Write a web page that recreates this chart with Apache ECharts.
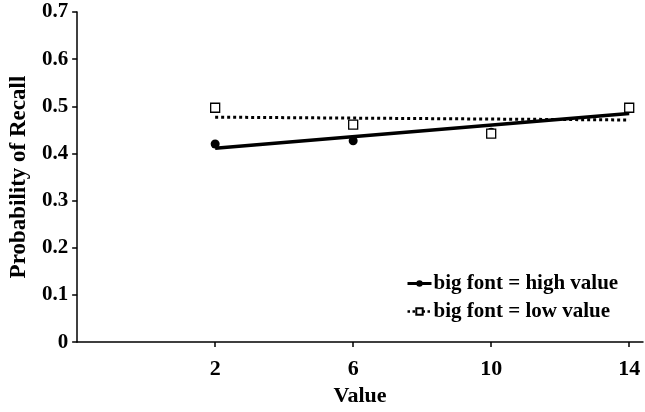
<!DOCTYPE html>
<html>
<head>
<meta charset="utf-8">
<script src="https://cdn.jsdelivr.net/npm/echarts@6/dist/echarts.min.js"></script>
<style>
  html, body { margin: 0; padding: 0; background: #fff; }
  #chart { width: 645px; height: 412px; }
</style>
</head>
<body>
<div id="chart"></div>
<script>
// x positions of the four conditions
const xValues = [2, 6, 10, 14];

// probability of recall
const highValue = [0.420, 0.427, 0.445, 0.495];
const lowValue = [0.497, 0.461, 0.442, 0.497];

// linear trend lines, end points at x = 2 and x = 14
const trendX = [2, 14];
const highTrend = [0.411, 0.485];
const lowTrend = [0.477, 0.471];

const seriesNames = ['big font = high value', 'big font = low value'];

const fontFamily = '"Liberation Serif", "DejaVu Serif", serif';

const pairs = (xs, ys) => xs.map((x, i) => [x, ys[i]]);

const chart = echarts.init(document.getElementById('chart'));

chart.setOption({
    animation: false,
    backgroundColor: '#fff',
    textStyle: { fontFamily: fontFamily, color: '#000' },
    grid: {
        left: 57,
        right: 2,
        top: 12,
        bottom: 57
    },
    legend: {
        orient: 'vertical',
        left: 401,
        top: 268,
        itemWidth: 24,
        itemHeight: 8,
        itemGap: 7,
        textStyle: {
            fontFamily: fontFamily,
            fontSize: 21,
            fontWeight: 'bold',
            color: '#000',
            padding: [0, 0, 0, -3]
        },
        data: [
            {
                name: seriesNames[0],
                lineStyle: { opacity: 1, width: 3, color: '#000', type: 'solid' }
            },
            {
                name: seriesNames[1],
                lineStyle: { opacity: 1, width: 2.5, color: '#000', type: [2.5, 2.5] }
            }
        ]
    },
    xAxis: {
        type: 'value',
        min: -2,
        max: 14.4,
        name: 'Value',
        nameLocation: 'middle',
        nameGap: 38,
        nameTextStyle: { fontSize: 22, fontWeight: 'bold', color: '#000' },
        splitLine: { show: false },
        axisLine: { lineStyle: { color: '#000', width: 1.5 } },
        axisTick: {
            length: 5,
            lineStyle: { color: '#000', width: 1.5 },
            customValues: xValues
        },
        axisLabel: {
            margin: 16,
            fontSize: 22,
            fontWeight: 'bold',
            color: '#000',
            customValues: xValues
        }
    },
    yAxis: {
        type: 'value',
        min: 0,
        max: 0.7,
        interval: 0.1,
        name: 'Probability of Recall',
        nameLocation: 'middle',
        nameGap: 35,
        nameTextStyle: { fontSize: 23, fontWeight: 'bold', color: '#000' },
        splitLine: { show: false },
        axisLine: { show: true, onZero: false, lineStyle: { color: '#000', width: 1.5 } },
        axisTick: { show: true, length: 5, lineStyle: { color: '#000', width: 1.5 } },
        axisLabel: {
            margin: 9,
            fontSize: 21,
            fontWeight: 'bold',
            color: '#000',
            formatter: v => String(Math.round(v * 10) / 10)
        }
    },
    series: [
        {
            name: 'high trend',
            type: 'line',
            data: pairs(trendX, highTrend),
            showSymbol: false,
            silent: true,
            z: 2,
            lineStyle: { color: '#000', width: 3.5 }
        },
        {
            name: 'low trend',
            type: 'line',
            data: pairs(trendX, lowTrend),
            showSymbol: false,
            silent: true,
            z: 2,
            lineStyle: { color: '#000', width: 3, type: [3, 3] }
        },
        {
            name: seriesNames[0],
            type: 'line',
            data: pairs(xValues, highValue),
            symbol: 'circle',
            symbolSize: 9,
            z: 3,
            lineStyle: { opacity: 0 },
            itemStyle: { color: '#000' }
        },
        {
            name: seriesNames[1],
            type: 'line',
            data: pairs(xValues, lowValue),
            symbol: 'rect',
            symbolSize: 9,
            z: 4,
            lineStyle: { opacity: 0 },
            itemStyle: { color: '#fff', borderColor: '#000', borderWidth: 1.3 }
        }
    ]
});
</script>
</body>
</html>
